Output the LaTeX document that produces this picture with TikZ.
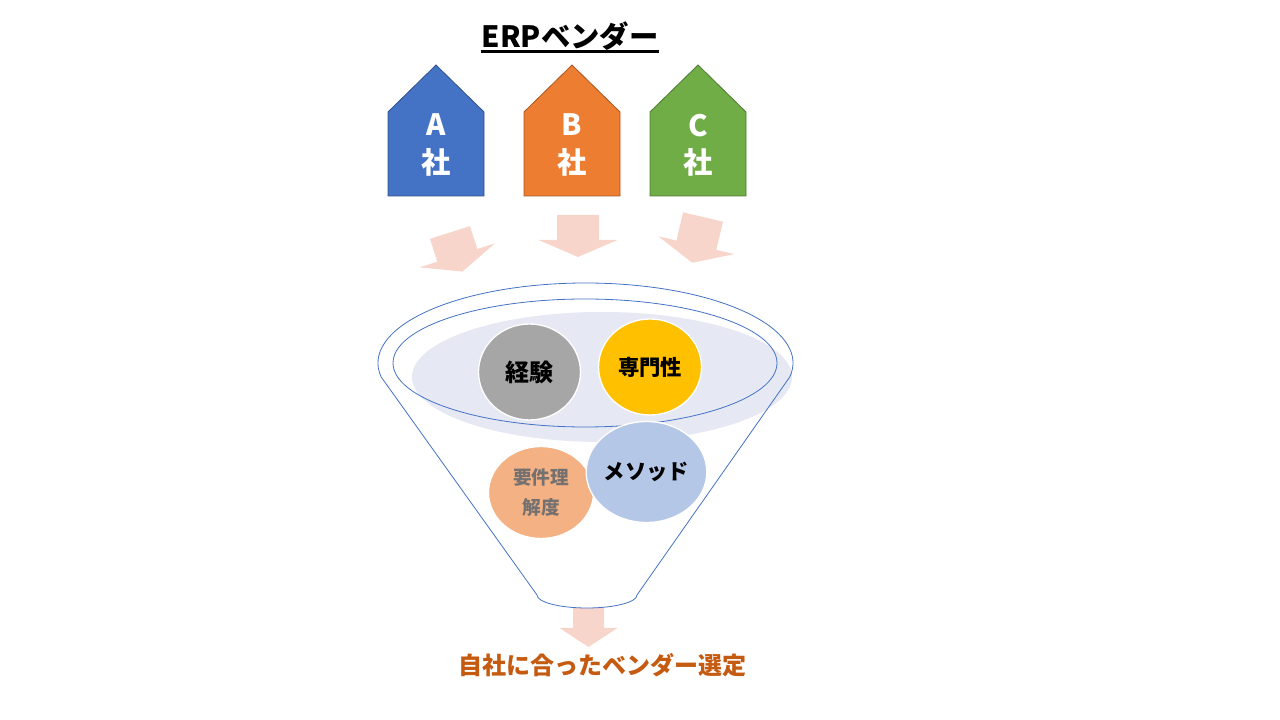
\documentclass[tikz,border=0pt]{standalone}
\usepackage{fontspec}
\setmainfont{Noto Sans CJK JP}
\usetikzlibrary{shapes.geometric}

\definecolor{vendorA}{HTML}{4472C4}
\definecolor{vendorB}{HTML}{ED7D31}
\definecolor{vendorC}{HTML}{70AD47}
\definecolor{arrowpink}{HTML}{F8D5CB}
\definecolor{funnelline}{HTML}{4472C4}
\definecolor{funnelshade}{HTML}{E6E8F3}
\definecolor{resultorange}{HTML}{C55A11}

\tikzset{
	house/.style={line width=0.6pt},
	housetext/.style={text=white,font=\fontsize{22}{28}\selectfont\bfseries,align=center},
	flow/.style={fill=arrowpink},
	factor/.style={ellipse,draw=white,line width=1pt,inner sep=0pt,font=\fontsize{16}{22}\selectfont\bfseries,align=center}
}

\begin{document}
\begin{tikzpicture}[x=0.75pt,y=0.75pt]
		\useasboundingbox (0,0) rectangle (1280,720);
		% title
		\node[inner sep=0pt,font=\fontsize{22}{26}\selectfont\bfseries] (title) at (570,684) {ERPベンダー};
		\draw[line width=1.8pt] ([yshift=-3.2pt]title.base west) -- ([yshift=-3.2pt]title.base east);
		% vendors
		\filldraw[house,fill=vendorA,draw=vendorA!70!black] (388,524) -- (388,608) -- (436,655) -- (484,608) -- (484,524) -- cycle;
		\filldraw[house,fill=vendorB,draw=vendorB!70!black] (524,524) -- (524,608) -- (572,655) -- (620,608) -- (620,524) -- cycle;
		\filldraw[house,fill=vendorC,draw=vendorC!70!black] (650,524) -- (650,608) -- (698,655) -- (746,608) -- (746,524) -- cycle;
		\node[housetext] (vendA) at (436,575) {A\\社};
		\node[housetext] (vendB) at (572,575) {B\\社};
		\node[housetext] (vendC) at (698,575) {C\\社};
		% arrows into the funnel
		\fill[flow,shift={(450,487.5)},rotate=17.7] (-21,0) -- (-21,-24) -- (-39.5,-24) -- (0,-41) -- (39.5,-24) -- (21,-24) -- (21,0) -- cycle;
		\fill[flow,shift={(578,505)}] (-21,0) -- (-21,-25) -- (-39.5,-25) -- (0,-42) -- (39.5,-25) -- (21,-25) -- (21,0) -- cycle;
		\fill[flow,shift={(703,503)},rotate=-13.2] (-20.5,0) -- (-20.5,-29) -- (-39,-29) -- (0,-47) -- (39,-29) -- (20.5,-29) -- (20.5,0) -- cycle;
		% arrow out of the funnel
		\fill[flow,shift={(588.5,122)}] (-15.5,0) -- (-15.5,-30) -- (-29,-30) -- (0,-49) -- (29,-30) -- (15.5,-30) -- (15.5,0) -- cycle;
		% funnel
		\fill[white] (789.8,343.1) arc[start angle=-10,end angle=190,x radius=207.5,y radius=80]
			-- (537,125) arc[start angle=180,end angle=360,x radius=50,y radius=13] -- cycle;
		\fill[funnelshade] (602,343) ellipse[x radius=190,y radius=65];
		\draw[funnelline,line width=0.6pt] (789.8,343.1) arc[start angle=-10,end angle=190,x radius=207.5,y radius=80]
			-- (537,125) arc[start angle=180,end angle=360,x radius=50,y radius=13] -- cycle;
		\draw[funnelline,line width=0.6pt] (585,357) ellipse[x radius=192,y radius=64];
		% factors
		\node[factor,fill=gray!70,minimum width=102pt*0.75,minimum height=96pt*0.75,font=\fontsize{18}{22}\selectfont\bfseries] (exp) at (529.5,348) {経験};
		\node[factor,fill={rgb,255:red,255;green,192;blue,0},minimum width=103pt*0.75,minimum height=96pt*0.75] (spec) at (650,353) {専門性};
		\node[factor,fill={rgb,255:red,244;green,177;blue,131},minimum width=105pt*0.75,minimum height=92pt*0.75,text={rgb,255:red,118;green,113;blue,113},font=\fontsize{14}{22}\selectfont\bfseries] (req) at (541,227.5) {要件理\\解度};
		\node[factor,fill={rgb,255:red,180;green,199;blue,231},minimum width=110pt*0.75,minimum height=101pt*0.75] (meth) at (646.5,248) {メソッド};
		% result
		\node[text=resultorange,font=\fontsize{18}{22}\selectfont\bfseries] (result) at (602.5,55) {自社に合ったベンダー選定};
	\end{tikzpicture}
\end{document}
